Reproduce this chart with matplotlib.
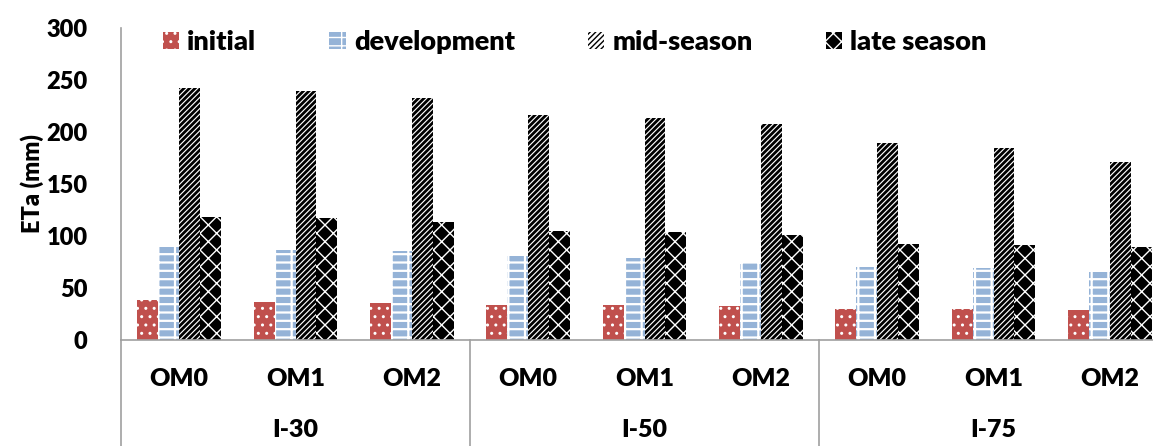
import matplotlib.pyplot as plt
import numpy as np

plt.rcParams['font.family'] = ['Lato', 'DejaVu Sans']
plt.rcParams['font.weight'] = 'heavy'

treatments = ['OM0', 'OM1', 'OM2'] * 3
groups = ['I-30', 'I-50', 'I-75']
stages = ['initial', 'development', 'mid-season', 'late season']

initial = [38, 37, 36, 34, 34, 33, 30, 30, 29]
development = [89, 87, 86, 81, 79, 75, 70, 69, 65]
mid_season = [242, 239, 233, 216, 213, 208, 189, 185, 171]
late_season = [118, 117, 113, 105, 104, 101, 92, 91, 89]

values = [initial, development, mid_season, late_season]
faces = ['#C0504D', '#95B3D7', 'white', 'black']
hatch_cols = ['white', 'white', 'black', 'white']
hatches = ['..', '--|', '//////', 'xx']
hatch_lw = [1.0, 1.6, 2.0, 1.0]

fig = plt.figure(figsize=(11.53, 4.46), dpi=100)
ax = fig.add_axes([0.105, 0.2377, 0.908, 0.6995])

x = np.arange(len(treatments))
w = 0.18
for i, (vals, fc, hc, h, lab) in enumerate(zip(values, faces, hatch_cols, hatches, stages)):
    with plt.rc_context({'hatch.linewidth': hatch_lw[i]}):
        ax.bar(x + (i - 1.5) * w, vals, w, color=fc, edgecolor=hc, hatch=h,
               linewidth=0, label=lab)

ax.set_xlim(-0.5, len(treatments) - 0.5)
ax.set_ylim(0, 300)
ax.set_yticks(range(0, 301, 50))
ax.tick_params(axis='y', length=0, labelsize=17, pad=24)
ax.set_xticks([])
for s in ['top', 'right']:
    ax.spines[s].set_visible(False)
for s in ['left', 'bottom']:
    ax.spines[s].set_color('#A0A0A0')
    ax.spines[s].set_linewidth(1.2)
for t in ax.get_yticklabels():
    t.set_fontweight('heavy')

ax.set_ylabel('ETa (mm)', fontsize=17, fontweight='heavy', labelpad=2)

# two-level category axis
trans = ax.get_xaxis_transform()
for xi, t in zip(x, treatments):
    ax.text(xi, -0.125, t, transform=trans, ha='center', va='center',
            fontsize=18, fontweight='heavy')
for gi, g in enumerate(groups):
    ax.text(gi * 3 + 1, -0.29, g, transform=trans, ha='center', va='center',
            fontsize=18, fontweight='heavy')
for b in [-0.5, 2.5, 5.5]:
    ax.plot([b, b], [0, -0.35], transform=trans, color='#A0A0A0', lw=1.2,
            clip_on=False)

ax.legend(loc='center left', bbox_to_anchor=(0.04, 0.955), ncol=4, frameon=False,
          fontsize=19.5, handlelength=0.6, handleheight=0.6, handletextpad=0.3,
          columnspacing=2.7, borderpad=0, borderaxespad=0)

fig.savefig('out.png', dpi=100)
